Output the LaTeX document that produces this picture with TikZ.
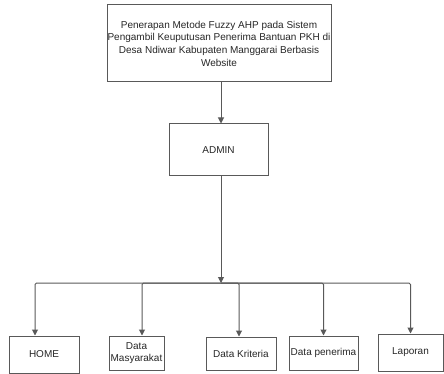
\documentclass[tikz,border=0pt]{standalone}
\usepackage{fontspec}
\setmainfont{Liberation Sans}
\usepackage{tikz}
\usetikzlibrary{arrows.meta}

\tikzset{
	box/.style={draw=black!65, line width=1pt, text=black!85, align=center, inner sep=0pt, font=\fontsize{10}{12.7}\selectfont},
	link/.style={draw=black!65, line width=1pt, rounded corners=1.5pt, -{Triangle[width=6pt,length=6pt]}}
}

\begin{document}
\begin{tikzpicture}[x=1pt, y=-1pt]
			{\useasboundingbox (0,0) rectangle (444,374);}
			% judul dan admin
			{\node[box, minimum width=224pt, minimum height=77pt] (judul) at (219,43.5) {Penerapan Metode Fuzzy AHP pada Sistem\\Pengambil Keuputusan Penerima Bantuan PKH di\\Desa Ndiwar Kabupaten Manggarai Berbasis\\Website};}
			{\node[box, minimum width=99pt, minimum height=52pt] (admin) at (218.5,150) {ADMIN};}
			% menu
			{\node[box, minimum width=70pt, minimum height=37pt] (home) at (44,354.5) {HOME};}
			{\node[box, minimum width=55pt, minimum height=34pt] (masyarakat) at (136.5,353) {Data\\Masyarakat};}
			{\node[box, minimum width=70pt, minimum height=33pt] (kriteria) at (241,353.5) {Data Kriteria};}
			{\node[box, minimum width=69pt, minimum height=34pt] (penerima) at (323.5,353) {Data penerima};}
			{\node[box, minimum width=65pt, minimum height=37pt] (laporan) at (410.5,352.5) {Laporan};}
			{\coordinate (cabang) at (221,283);}
			% panah
			{\draw[link] ([xshift=2pt]judul.south) -- ([xshift=2.5pt]admin.north);}
			{\draw[link] ([xshift=2.5pt]admin.south) -- (cabang);}
			{\draw[link] (cabang) -| ([xshift=-9pt]home.north);}
			{\draw[link] (cabang) -| ([xshift=5.5pt]masyarakat.north);}
			{\draw[link] (cabang) -| ([xshift=-2pt]kriteria.north);}
			{\draw[link] (cabang) -| (penerima.north);}
			{\draw[link] (cabang) -| (laporan.north);}
		\end{tikzpicture}
\end{document}
